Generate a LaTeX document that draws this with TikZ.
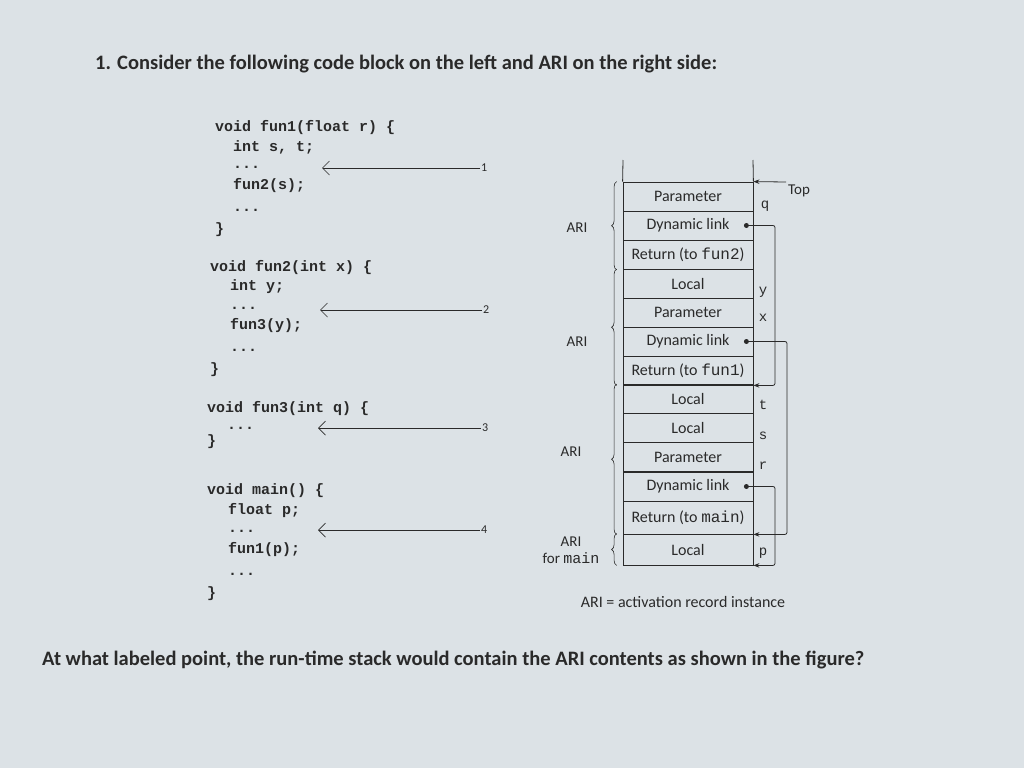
\documentclass[tikz,border=0pt]{standalone}
\usepackage{fontspec}
\setmainfont{Carlito}
\setmonofont{Liberation Mono}
\usetikzlibrary{decorations.pathreplacing,arrows.meta}
\definecolor{bg}{HTML}{DCE2E6}
\definecolor{ink}{HTML}{2A2A2A}
\begin{document}
\begin{tikzpicture}[x=1pt,y=-1pt,
  code/.style={anchor=west,inner sep=0,font=\ttfamily\bfseries\fontsize{15}{17}\selectfont,text=ink},
  lbl/.style={inner sep=0,font=\fontsize{15}{17}\selectfont,text=ink},
  var/.style={inner sep=0,font=\ttfamily\fontsize{14}{16}\selectfont,text=ink},
  cell/.style={draw=ink,minimum width=130pt,minimum height=29pt,inner sep=0,font=\fontsize{16}{18}\selectfont,text=ink,line width=0.8pt},
  pt/.style={-{Stealth[length=6pt]},draw=ink,line width=0.8pt},
  br/.style={decorate,decoration={brace,amplitude=5pt},draw=ink,line width=0.6pt}]
\fill[bg] (0,0) rectangle (1024,768);
\useasboundingbox (0,0) rectangle (1024,768);
\node[anchor=west,inner sep=0,font=\bfseries\fontsize{20.5}{24}\selectfont,text=ink] (title) at (95,64) {1. Consider the following code block on the left and ARI on the right side:};
\node[anchor=west,inner sep=0,font=\bfseries\fontsize{20.5}{24}\selectfont,text=ink] (q) at (42,660) {At what labeled point, the run-time stack would contain the ARI contents as shown in the figure?};
% code
\node[code] (c1) at (215,128) {void fun1(float r) \{};
\node[code] (c2) at (233,147) {int s, t;};
\node[code] (c3) at (233,167) {...};
\node[code] (c4) at (233,186) {fun2(s);};
\node[code] (c5) at (233,210) {...};
\node[code] (c6) at (215,230) {\}};
\node[code] (d1) at (210,268) {void fun2(int x) \{};
\node[code] (d2) at (230,287) {int y;};
\node[code] (d3) at (230,308) {...};
\node[code] (d4) at (230,326) {fun3(y);};
\node[code] (d5) at (230,350) {...};
\node[code] (d6) at (210,370) {\}};
\node[code] (e1) at (207,409) {void fun3(int q) \{};
\node[code] (e2) at (227,428) {...};
\node[code] (e3) at (207,442) {\}};
\node[code] (f1) at (207,491) {void main() \{};
\node[code] (f2) at (228,511) {float p;};
\node[code] (f3) at (228,531) {...};
\node[code] (f4) at (228,550) {fun1(p);};
\node[code] (f5) at (228,574) {...};
\node[code] (f6) at (207,594) {\}};
% point arrows
\foreach \n/\y/\xa/\xb in {1/168/480/322,2/310/482/320,3/428/481/318,4/530/480/318}{
  \coordinate (s\n) at (\xa,\y); \coordinate (t\n) at (\xb,\y);
  \draw[-{Straight Barb[length=7pt]},draw=ink,line width=0.7pt] (s\n) -- (t\n);
  \node[lbl,anchor=west,font=\fontsize{12}{14}\selectfont] (n\n) at (\xa+1,\y) {\n};
}
% stack
\foreach \i/\t/\y in {1/Parameter/196.5,2/Dynamic link/225.5,3/{Return (to \texttt{fun2})}/255,4/Local/284,5/Parameter/312.5,6/Dynamic link/341.5,7/{Return (to \texttt{fun1})}/370.5,8/Local/399,9/Local/427.5,10/Parameter/457,11/Dynamic link/486.5}{
  \node[cell] (r\i) at (688,\y) {\t};
}
\node[cell,minimum height=33pt] (r12) at (688,517.5) {Return (to \texttt{main})};
\node[cell,minimum height=31pt] (r13) at (688,549.5) {Local};
\coordinate (tl) at (623,160); \coordinate (tr) at (753,160);
\draw[ink,line width=0.8pt] (tl) -- (r1.north west);
\draw[ink,line width=0.8pt] (tr) -- (r1.north east);
% dynamic links
\foreach \a/\b/\x in {2/7/775,6/12/787,11/13/775}{
  \fill[ink] ([xshift=-7pt]r\a.east) circle (2.5pt);
  \draw[pt,rounded corners=2pt] ([xshift=-7pt]r\a.east) -- (\x,0|-r\a.east) -- (\x,0|-r\b.south east) -- (r\b.south east);
}
% top
\node[lbl] (top) at (799,191) {Top};
\coordinate (topa) at (786,182);
\draw[pt] (topa) -- (r1.north east);
% vars
\node[var] (vq) at (765,206) {q};
\node[var] (vy) at (763,292) {y};
\node[var] (vx) at (763,318) {x};
\node[var] (vt) at (763,405) {t};
\node[var] (vs) at (763,436) {s};
\node[var] (vr) at (763,466) {r};
\node[var] (vp) at (763,553) {p};
% braces
\draw[br] ([xshift=-6pt]r3.south west) -- ([xshift=-6pt]r1.north west);
\draw[br] ([xshift=-6pt]r7.south west) -- ([xshift=-6pt]r4.north west);
\draw[br] ([xshift=-6pt]r12.south west) -- ([xshift=-6pt]r8.north west);
\draw[br] ([xshift=-6pt]r13.south west) -- ([xshift=-6pt]r13.north west);
\node[lbl] (a1) at (577,228) {ARI};
\node[lbl] (a2) at (577,342) {ARI};
\node[lbl] (a3) at (571,452) {ARI};
\node[lbl,align=center] (a4) at (571,550) {ARI\\for \texttt{main}};
\node[lbl,font=\fontsize{16}{18}\selectfont] (leg) at (683,602) {ARI = activation record instance};
\end{tikzpicture}
\end{document}
